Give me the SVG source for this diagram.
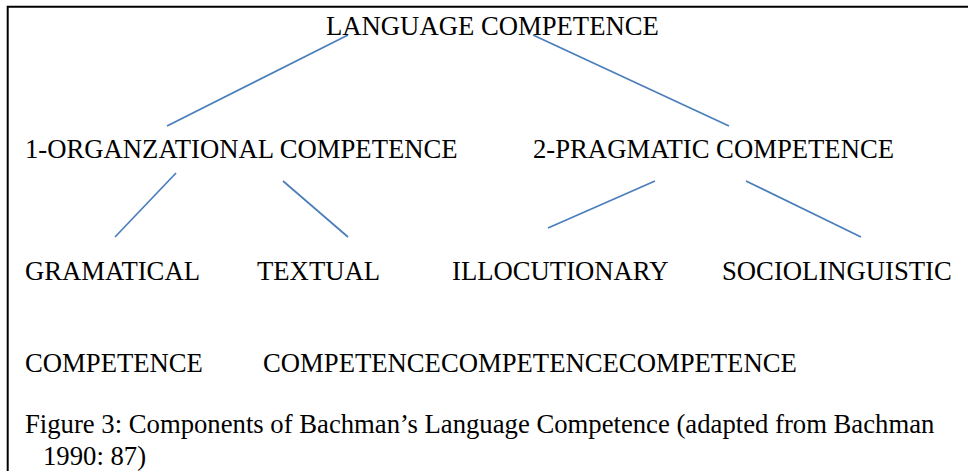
<svg xmlns="http://www.w3.org/2000/svg" width="968" height="471" viewBox="0 0 968 471">
<style>
  .t { font-family: "Liberation Serif", "Times New Roman", serif; font-size: 26.7px; fill: #000; }
  .c { stroke: #4a7ebb; stroke-width: 1.7; fill: none; }
</style>
<rect width="968" height="471" fill="#fff"/>
<path d="M7.7 471 V6.7 H968" stroke="#000" stroke-width="2" fill="none"/>
<g id="connectors">
  <line class="c" x1="348" y1="35" x2="167" y2="126"/>
  <line class="c" x1="533" y1="35" x2="729" y2="126"/>
  <line class="c" x1="176" y1="173" x2="115" y2="237"/>
  <line class="c" x1="283" y1="181" x2="348" y2="237"/>
  <line class="c" x1="655" y1="181" x2="548" y2="228"/>
  <line class="c" x1="746" y1="181" x2="861" y2="237"/>
</g>
<g id="language-competence"><text class="t" x="326" y="35">LANGUAGE COMPETENCE</text></g>
<g id="organizational"><text class="t" x="25" y="158">1-ORGANZATIONAL COMPETENCE</text></g>
<g id="pragmatic"><text class="t" x="533" y="158">2-PRAGMATIC COMPETENCE</text></g>
<g id="grammatical"><text class="t" x="25" y="280">GRAMATICAL</text><text class="t" x="25" y="372">COMPETENCE</text></g>
<g id="textual"><text class="t" x="257" y="280">TEXTUAL</text></g>
<g id="illocutionary"><text class="t" x="452" y="280">ILLOCUTIONARY</text></g>
<g id="sociolinguistic"><text class="t" x="722" y="280">SOCIOLINGUISTIC</text></g>
<g id="competence-row"><text class="t" x="263" y="372">COMPETENCECOMPETENCECOMPETENCE</text></g>
<g id="caption">
  <text class="t" x="25" y="433">Figure 3: Components of Bachman’s Language Competence (adapted from Bachman</text>
  <text class="t" x="43" y="465">1990: 87)</text>
</g>
</svg>
